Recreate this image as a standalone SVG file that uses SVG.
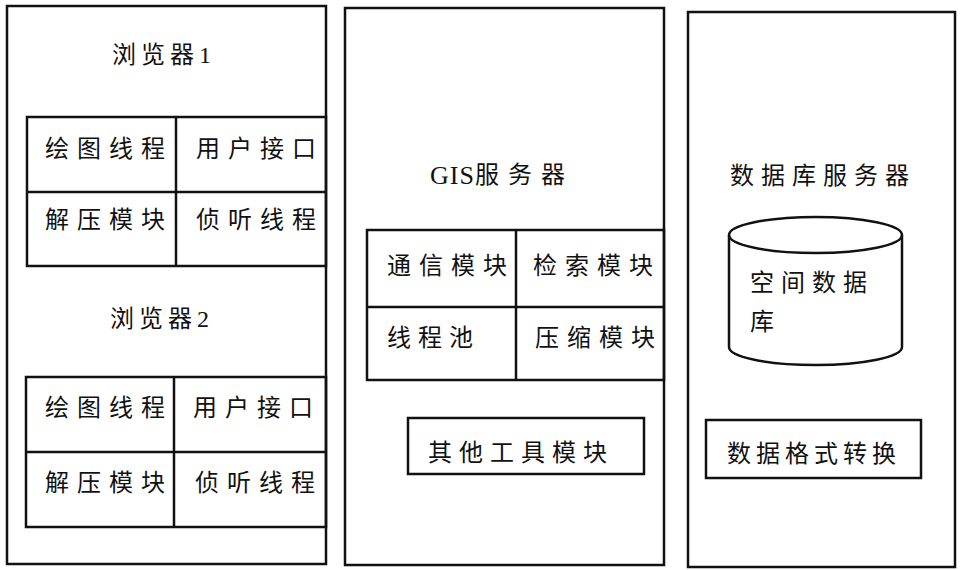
<svg xmlns="http://www.w3.org/2000/svg" width="961" height="570" viewBox="0 0 961 570">
<style>
.b{fill:none;stroke:#111;stroke-width:2.5}
.t{font-family:"Liberation Serif","Noto Sans CJK SC",serif;font-size:24px;fill:#111;dominant-baseline:central}
.c{letter-spacing:8px}
</style>
<rect x="0" y="0" width="961" height="570" fill="#fff"/>
<g id="browser-panel">
<rect class="b" x="7" y="6" width="319" height="558"/>
<g id="browser1">
<text class="t" x="112" y="55" style="letter-spacing:5px">浏览器<tspan style="letter-spacing:0">1</tspan></text>
<rect class="b" x="27" y="117" width="299" height="149"/>
<line class="b" x1="176" y1="117" x2="176" y2="266"/>
<line class="b" x1="27" y1="192" x2="326" y2="192"/>
<text class="t c" x="45" y="149">绘图线程</text>
<text class="t c" x="196" y="149">用户接口</text>
<text class="t c" x="45" y="220">解压模块</text>
<text class="t c" x="196" y="220">侦听线程</text>
</g>
<g id="browser2">
<text class="t" x="110" y="319" style="letter-spacing:5px">浏览器<tspan style="letter-spacing:0">2</tspan></text>
<rect class="b" x="26" y="377" width="300" height="150"/>
<line class="b" x1="174" y1="377" x2="174" y2="527"/>
<line class="b" x1="26" y1="452" x2="326" y2="452"/>
<text class="t c" x="45" y="408">绘图线程</text>
<text class="t c" x="193" y="408">用户接口</text>
<text class="t c" x="45" y="483">解压模块</text>
<text class="t c" x="195" y="483">侦听线程</text>
</g>
</g>
<g id="gis-server">
<rect class="b" x="345" y="8" width="319" height="557"/>
<text class="t" x="430" y="175"><tspan style="letter-spacing:1px;font-size:26px">GIS</tspan><tspan style="letter-spacing:9px">服务器</tspan></text>
<rect class="b" x="367" y="230" width="297" height="150"/>
<line class="b" x1="516" y1="230" x2="516" y2="380"/>
<line class="b" x1="367" y1="307" x2="664" y2="307"/>
<text class="t c" x="387" y="266">通信模块</text>
<text class="t c" x="533" y="266">检索模块</text>
<text class="t" x="387" y="338" style="letter-spacing:7px">线程池</text>
<text class="t c" x="535" y="338">压缩模块</text>
<g id="other-tools">
<rect class="b" x="408" y="418" width="236" height="56"/>
<text class="t" x="428" y="453" style="letter-spacing:7px">其他工具模块</text>
</g>
</g>
<g id="db-server">
<rect class="b" x="688" y="12" width="267" height="555"/>
<text class="t" x="730" y="176" style="letter-spacing:7px">数据库服务器</text>
<g id="spatial-db">
<path class="b" d="M729 235 L729 347 A86.5 18 0 0 0 902 347 L902 235"/>
<ellipse class="b" cx="815.5" cy="235" rx="86.5" ry="18" fill="#fff"/>
<text class="t" x="750" y="283" style="letter-spacing:7px">空间数据</text>
<text class="t" x="750" y="322">库</text>
</g>
<g id="format-convert">
<rect class="b" x="706" y="420" width="215" height="58"/>
<text class="t" x="727" y="454" style="letter-spacing:5px">数据格式转换</text>
</g>
</g>
<g id="connectors"/>
</svg>
